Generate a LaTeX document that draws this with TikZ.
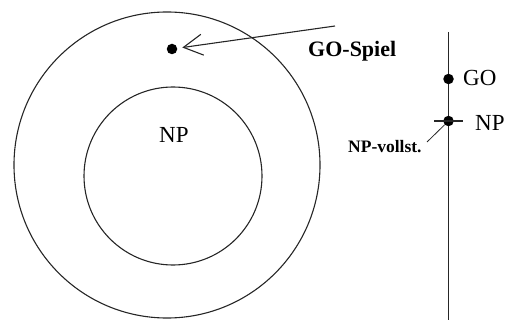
\documentclass[tikz,border=0pt]{standalone}
\usepackage{fontspec}
\setmainfont{Liberation Serif}
\usetikzlibrary{arrows.meta}
\begin{document}
\begin{tikzpicture}[x=1pt,y=-1pt,
  ln/.style={line width=1.1pt,draw=black!85},
  dot/.style={circle,fill=black,inner sep=0pt,minimum size=10.5pt},
  lbl/.style={anchor=base west,inner sep=0pt,font=\fontsize{23}{26}\selectfont},
  blbl/.style={anchor=base west,inner sep=0pt,font=\bfseries\fontsize{22}{26}\selectfont},
  slbl/.style={anchor=base west,inner sep=0pt,font=\bfseries\fontsize{17.5}{20}\selectfont}]
\useasboundingbox (0,0) rectangle (513,320);
% circles
\draw[ln] (167,165) circle[radius=153pt];
\draw[ln] (173,176) circle[radius=89pt];
\node[lbl] (npin) at (159,143) {NP};
% GO-Spiel
\node[dot] (godot) at (172,49) {};
\coordinate (gostart) at (335,26);
\draw[ln,-{Straight Barb[length=19pt,width=21pt,line width=1.1pt]},shorten >=5pt] (gostart) -- (godot);
\node[blbl] (gospiel) at (308,57) {GO-Spiel};
% right axis
\coordinate (axtop) at (448.5,32);
\coordinate (axbot) at (448.5,320);
\draw[ln] (axtop) -- (axbot);
\node[dot] (godot2) at (448.5,79) {};
\node[lbl] (golbl) at (463,86) {GO};
\node[dot] (npdot) at (448.5,121) {};
\coordinate (tickl) at (434,121);
\coordinate (tickr) at (463,121);
\draw[ln] (tickl) -- (tickr);
\node[lbl] (nplbl) at (475,131) {NP};
\node[slbl] (npv) at (348,153) {NP-vollst.};
\coordinate (npvend) at (427,142);
\draw[line width=0.8pt,draw=black!85] (npvend) -- (npdot);
\end{tikzpicture}
\end{document}
